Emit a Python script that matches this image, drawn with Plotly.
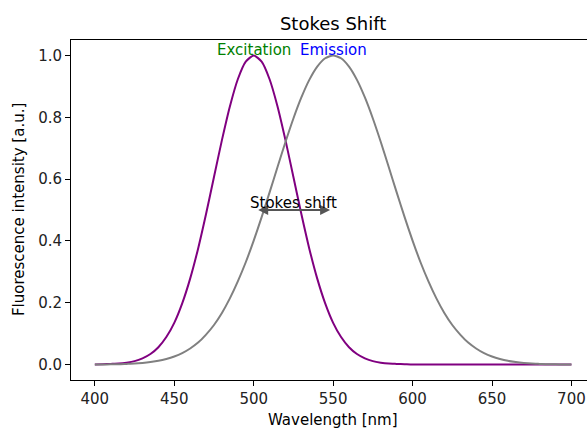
import plotly.graph_objects as go

wavelength = [400, 405, 410, 415, 420, 425, 430, 435, 440, 445, 450, 455, 460, 465, 470, 475,
              480, 485, 490, 495, 500, 505, 510, 515, 520, 525, 530, 535, 540, 545, 550, 555,
              560, 565, 570, 575, 580, 585, 590, 595, 600, 605, 610, 615, 620, 625, 630, 635,
              640, 645, 650, 655, 660, 665, 670, 675, 680, 685, 690, 695, 700]

excitation = [0.000, 0.001, 0.002, 0.003, 0.006, 0.011, 0.020, 0.034, 0.056, 0.089, 0.135, 0.198,
              0.278, 0.375, 0.487, 0.607, 0.726, 0.835, 0.923, 0.980, 1.000, 0.980, 0.923, 0.835,
              0.726, 0.607, 0.487, 0.375, 0.278, 0.198, 0.135, 0.089, 0.056, 0.034, 0.020, 0.011,
              0.006, 0.003, 0.002, 0.001, 0.000, 0.000, 0.000, 0.000, 0.000, 0.000, 0.000, 0.000,
              0.000, 0.000, 0.000, 0.000, 0.000, 0.000, 0.000, 0.000, 0.000, 0.000, 0.000, 0.000,
              0.000]

emission = [0.000, 0.000, 0.001, 0.001, 0.002, 0.003, 0.005, 0.008, 0.012, 0.018, 0.026, 0.037,
            0.052, 0.071, 0.097, 0.128, 0.167, 0.214, 0.269, 0.331, 0.401, 0.477, 0.557, 0.639,
            0.720, 0.796, 0.864, 0.921, 0.964, 0.991, 1.000, 0.991, 0.964, 0.921, 0.864, 0.796,
            0.720, 0.639, 0.557, 0.477, 0.401, 0.331, 0.269, 0.214, 0.167, 0.128, 0.097, 0.071,
            0.052, 0.037, 0.026, 0.018, 0.012, 0.008, 0.005, 0.003, 0.002, 0.001, 0.001, 0.000,
            0.000]

peak_labels = ["Excitation", "Emission"]
peak_positions = [500, 550]
peak_colors = ["green", "blue"]
shift_start, shift_end, shift_level = 500, 550, 0.5

x_ticks = [400, 450, 500, 550, 600, 650, 700]
y_ticks = [0.0, 0.2, 0.4, 0.6, 0.8, 1.0]

FONT = "DejaVu Sans"

fig = go.Figure()
fig.add_trace(go.Scatter(x=wavelength, y=excitation, mode="lines",
                         line=dict(color="purple", width=2, shape="spline", smoothing=0.6),
                         showlegend=False))
fig.add_trace(go.Scatter(x=wavelength, y=emission, mode="lines",
                         line=dict(color="gray", width=2, shape="spline", smoothing=0.6),
                         showlegend=False))

annotations = []
for lab, pos, col in zip(peak_labels, peak_positions, peak_colors):
    annotations.append(dict(x=pos, y=1.018, xref="x", yref="y", text=lab, showarrow=False,
                            font=dict(color=col, size=15, family=FONT),
                            xanchor="center", yanchor="middle"))
# double-headed arrow
annotations.append(dict(x=shift_end, y=shift_level, ax=shift_start, ay=shift_level,
                        xref="x", yref="y", axref="x", ayref="y", text="",
                        showarrow=True, arrowhead=2, startarrowhead=2, arrowside="end+start",
                        arrowsize=1, arrowwidth=2, arrowcolor="#555555",
                        standoff=3, startstandoff=3))
annotations.append(dict(x=(shift_start + shift_end) / 2, y=shift_level, xref="x", yref="y",
                        text="Stokes shift", showarrow=False,
                        font=dict(color="black", size=15, family=FONT),
                        xanchor="center", yanchor="bottom", yshift=-4))
# axis titles
annotations.append(dict(x=0.508, y=-0.1176, xref="paper", yref="paper",
                        text="Wavelength [nm]", showarrow=False,
                        font=dict(color="black", size=15, family=FONT),
                        xanchor="center", yanchor="middle"))
annotations.append(dict(x=-0.1007, y=0.5, xref="paper", yref="paper",
                        text="Fluorescence intensity [a.u.]", showarrow=False, textangle=-90,
                        font=dict(color="black", size=15, family=FONT),
                        xanchor="center", yanchor="middle"))

fig.update_layout(
    width=587, height=428,
    margin=dict(l=70.5, r=0, t=40, b=48),
    paper_bgcolor="white", plot_bgcolor="white",
    font=dict(family=FONT, size=15, color="#222222"),
    title=dict(text="Stokes Shift", xref="paper", x=0.508, xanchor="center",
               yref="container", y=1 - 24 / 428, yanchor="middle",
               font=dict(size=18, family=FONT, color="black")),
    annotations=annotations,
)
fig.update_xaxes(range=[385, 709.8], tickvals=x_ticks, ticktext=[str(v) for v in x_ticks],
                 showgrid=False, zeroline=False, showline=True, linecolor="black", linewidth=1,
                 mirror=True, ticks="outside", ticklen=5, tickcolor="black")
fig.update_yaxes(range=[-0.05, 1.05], tickvals=y_ticks, ticktext=[f"{v:.1f}" for v in y_ticks],
                 showgrid=False, zeroline=False, showline=True, linecolor="black", linewidth=1,
                 ticks="outside", ticklen=5, tickcolor="black")

fig.write_html("out.html")
